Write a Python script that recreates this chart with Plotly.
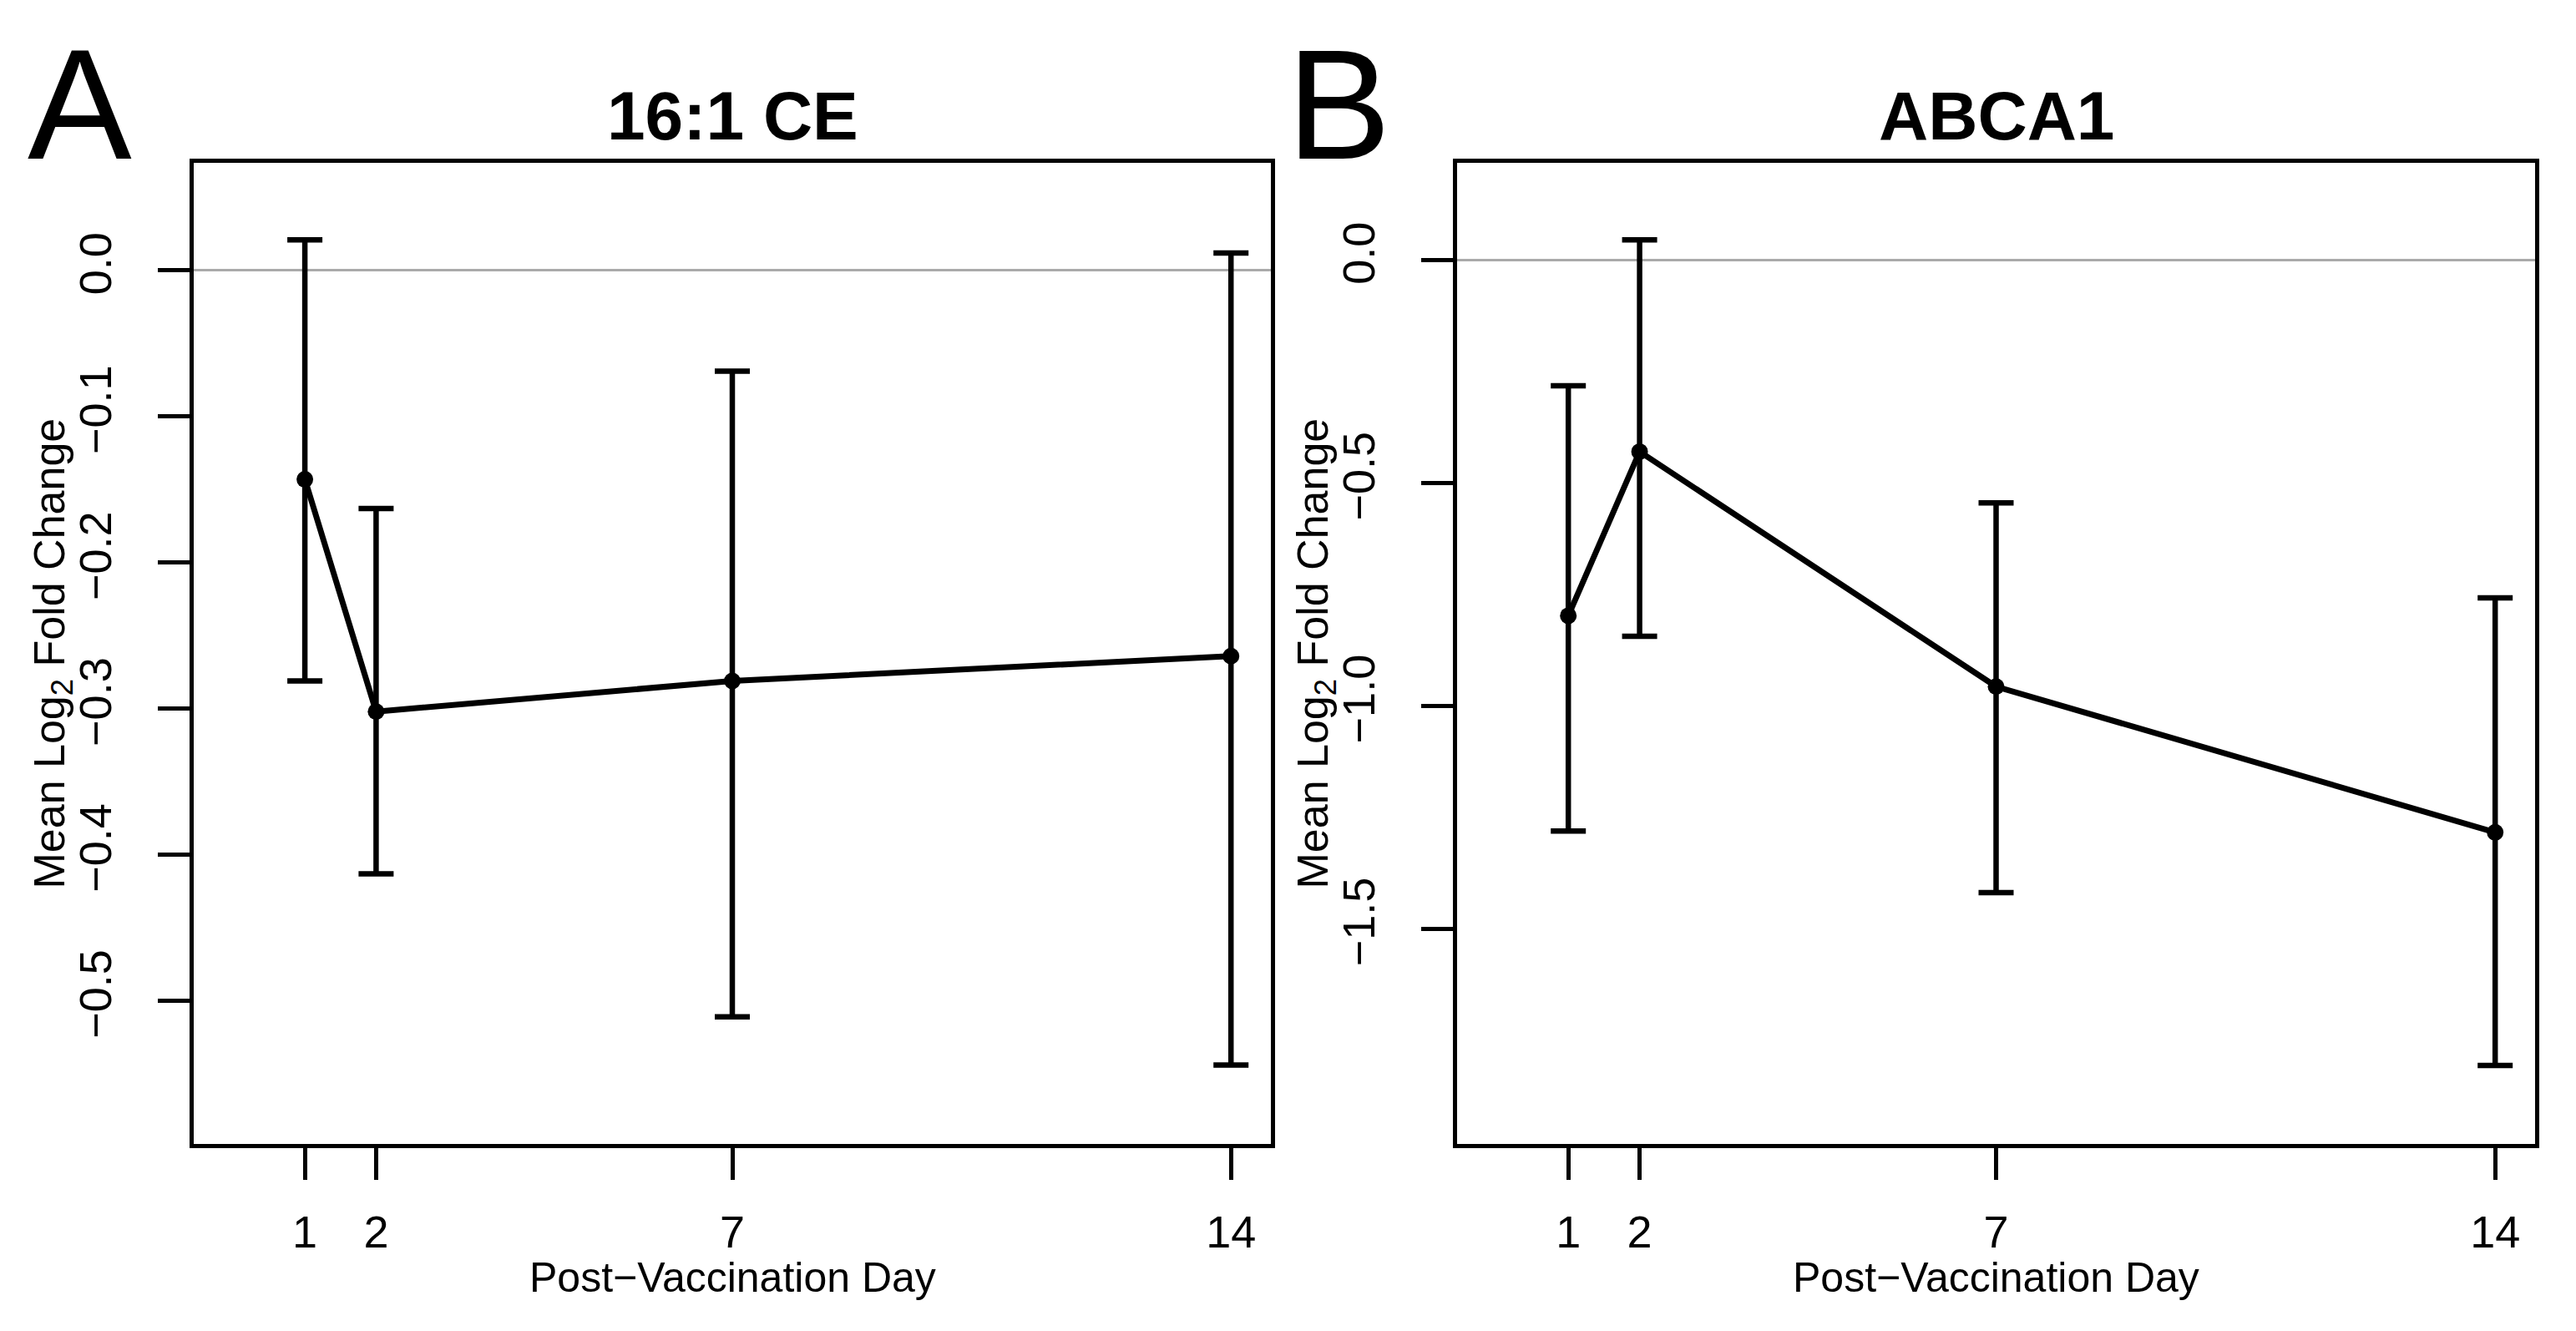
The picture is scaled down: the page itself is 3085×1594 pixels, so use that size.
"""
Mean log2 fold change by post-vaccination day, two panels
"""

import plotly.graph_objects as go
from plotly.subplots import make_subplots

days = [1, 2, 7, 14]
day_labels = ['1', '2', '7', '14']

# panel A: 16:1 CE
ce_mean = [-0.143, -0.302, -0.281, -0.264]
ce_upper = [0.021, -0.163, -0.069, 0.012]
ce_lower = [-0.281, -0.413, -0.511, -0.544]
ce_ticks = [0.0, -0.1, -0.2, -0.3, -0.4, -0.5]

# panel B: ABCA1
ab_mean = [-0.798, -0.430, -0.957, -1.284]
ab_upper = [-0.282, 0.045, -0.545, -0.758]
ab_lower = [-1.281, -0.844, -1.419, -1.807]
ab_ticks = [0.0, -0.5, -1.0, -1.5]

titles = ['16:1 CE', 'ABCA1']
letters = ['A', 'B']

W, H = 3085, 1594
FONT = 'Liberation Sans'

fig = make_subplots(rows=1, cols=2)

panels = [(ce_mean, ce_upper, ce_lower), (ab_mean, ab_upper, ab_lower)]
for i, (m, up, lo) in enumerate(panels):
    fig.add_trace(go.Scatter(
        x=days, y=m, mode='lines+markers',
        line=dict(color='black', width=7),
        marker=dict(color='black', size=20),
        error_y=dict(type='data', symmetric=False,
                     array=[u - v for u, v in zip(up, m)],
                     arrayminus=[v - l for v, l in zip(m, lo)],
                     color='black', thickness=6.5, width=21),
        showlegend=False), row=1, col=i + 1)

# plot box positions (pixels)
box_x = [(224, 1514), (1737, 3028)]
box_top, box_bot = 187, 1362
yranges = [[-0.598, 0.0737], [-1.983, 0.218]]
yticks = [ce_ticks, ab_ticks]

for i in range(2):
    xa = 'xaxis' if i == 0 else 'xaxis2'
    ya = 'yaxis' if i == 0 else 'yaxis2'
    fig.layout[xa].update(
        domain=[box_x[i][0] / W, box_x[i][1] / W],
        range=[-0.56, 14.56], tickvals=days, ticktext=day_labels,
        ticks='outside', ticklen=38, tickwidth=5, tickcolor='black',
        showline=True, linecolor='black', linewidth=5, mirror=True,
        showgrid=False, zeroline=False, ticklabelstandoff=16,
        tickfont=dict(family=FONT, size=54, color='black'))
    fig.layout[ya].update(
        domain=[1 - box_bot / H, 1 - box_top / H],
        range=yranges[i], tickvals=yticks[i],
        ticktext=[f'{t:.1f}'.replace('-', '\u2212') for t in yticks[i]],
        tickangle=-90,
        ticks='outside', ticklen=38, tickwidth=5, tickcolor='black',
        showline=True, linecolor='black', linewidth=5, mirror=True,
        showgrid=False, zeroline=True, zerolinecolor='#aaaaaa',
        zerolinewidth=2.5, ticklabelstandoff=34,
        tickfont=dict(family=FONT, size=54, color='black'))

    cx = (box_x[i][0] + box_x[i][1]) / 2 / W
    fig.add_annotation(
        x=cx, y=1 - 130 / H, xref='paper', yref='paper',
        text=f'<b>{titles[i]}</b>', showarrow=False,
        xanchor='center', yanchor='middle',
        font=dict(family=FONT, size=82, color='black'))
    fig.add_annotation(
        x=cx, y=1 - 1522 / H, xref='paper', yref='paper',
        text='Post\u2212Vaccination Day', showarrow=False,
        xanchor='center', yanchor='middle',
        font=dict(family=FONT, size=50, color='black'))
    fig.add_annotation(
        x=(box_x[i][0] - 170) / W, y=1 - (box_top + box_bot) / 2 / H,
        xref='paper', yref='paper',
        text='Mean Log<sub>2</sub> Fold Change', showarrow=False,
        textangle=-90, xanchor='center', yanchor='middle',
        font=dict(family=FONT, size=52, color='black'))

letter_x = [87, 1595]
for i in range(2):
    fig.add_annotation(
        x=letter_x[i] / W, y=1 - 118 / H, xref='paper', yref='paper',
        text=letters[i], showarrow=False,
        xanchor='center', yanchor='middle',
        font=dict(family=FONT, size=187, color='black'))

fig.update_layout(
    width=W, height=H,
    margin=dict(l=0, r=0, t=0, b=0),
    paper_bgcolor='white', plot_bgcolor='white')

fig.write_html('out.html')
